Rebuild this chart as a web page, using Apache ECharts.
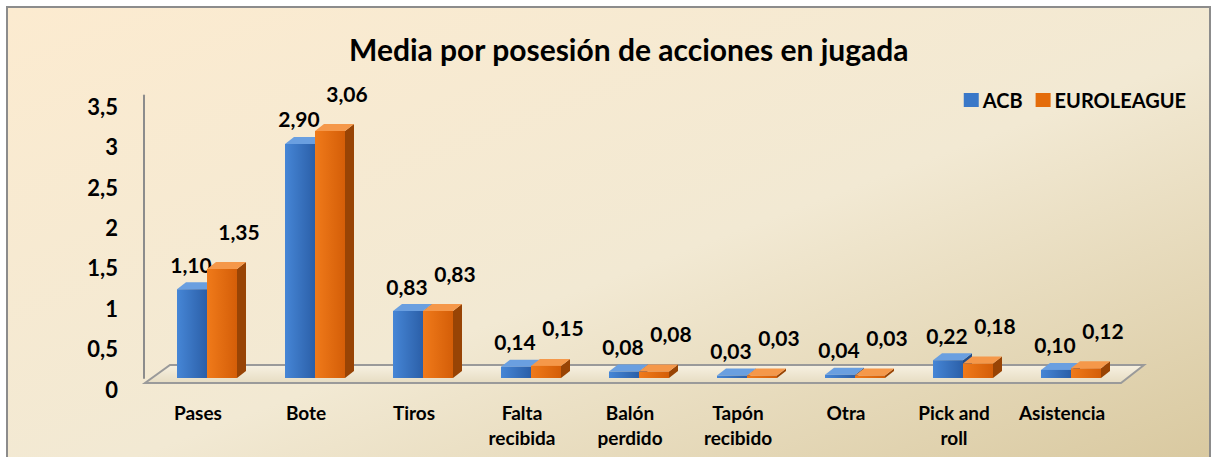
<!DOCTYPE html>
<html>
<head>
<meta charset="utf-8">
<script src="https://cdn.jsdelivr.net/npm/echarts@6/dist/echarts.min.js"></script>
<style>
html, body { margin: 0; padding: 0; background: #fff; }
#chart { width: 1216px; height: 457px; }
</style>
</head>
<body>
<div id="chart"></div>
<script>
const categories = ['Pases', 'Bote', 'Tiros', 'Falta\nrecibida', 'Balón\nperdido', 'Tapón\nrecibido', 'Otra', 'Pick and\nroll', 'Asistencia'];
const acbValues = [1.10, 2.90, 0.83, 0.14, 0.08, 0.03, 0.04, 0.22, 0.10];
const euroValues = [1.35, 3.06, 0.83, 0.15, 0.08, 0.03, 0.03, 0.18, 0.12];
const seriesNames = ['ACB', 'EUROLEAGUE'];

const FONT = 'Lato';
const fmt = v => v.toFixed(2).replace('.', ',');

// fake 3D box: front face + right side + top face
const DEPTH_X = 9, DEPTH_Y = 7, BAR_W = 30;

const palettes = {
    ACB: { front: ['#4686d6', '#2b5fa8'], side: '#224d8a', top: '#6a9fe0', legend: '#3a78c8' },
    EUROLEAGUE: { front: ['#f07a1a', '#d45e08'], side: '#984405', top: '#f5984a', legend: '#e46c0a' }
};

function makeRender(name, shift, labelDx, labelDy) {
    const pal = palettes[name];
    return function (params, api) {
        const base = api.coord([api.value(0), 0]);
        const topPt = api.coord([api.value(0), api.value(1)]);
        const x0 = base[0] + shift;
        const x1 = x0 + BAR_W;
        const y0 = base[1];
        const y1 = topPt[1];
        return {
            type: 'group',
            children: [
                {
                    type: 'polygon',
                    shape: { points: [[x1, y0], [x1 + DEPTH_X, y0 - DEPTH_Y], [x1 + DEPTH_X, y1 - DEPTH_Y], [x1, y1]] },
                    style: { fill: pal.side }
                },
                {
                    type: 'polygon',
                    shape: { points: [[x0, y1], [x1, y1], [x1 + DEPTH_X, y1 - DEPTH_Y], [x0 + DEPTH_X, y1 - DEPTH_Y]] },
                    style: { fill: pal.top }
                },
                {
                    type: 'rect',
                    shape: { x: x0, y: y1, width: BAR_W, height: y0 - y1 },
                    style: {
                        fill: new echarts.graphic.LinearGradient(0, 0, 1, 0, [
                            { offset: 0, color: pal.front[0] },
                            { offset: 1, color: pal.front[1] }
                        ])
                    }
                },
                {
                    type: 'text',
                    style: {
                        text: fmt(api.value(1)),
                        x: x0 + labelDx,
                        y: y1 + labelDy,
                        align: 'center',
                        verticalAlign: 'middle',
                        fontFamily: FONT,
                        fontWeight: 'bold',
                        fontSize: 21,
                        fill: '#000'
                    }
                }
            ]
        };
    };
}

const chart = echarts.init(document.getElementById('chart'), null, { renderer: 'svg' });

const option = {
    backgroundColor: '#fff',
    animation: false,
    title: {
        text: 'Media por posesión de acciones en jugada',
        left: 349,
        top: 34,
        padding: 0,
        textStyle: { fontFamily: FONT, fontWeight: 'bold', fontSize: 30, color: '#000' }
    },
    legend: {
        data: seriesNames,
        right: 30,
        top: 90,
        padding: 0,
        icon: 'rect',
        itemWidth: 15,
        itemHeight: 14,
        itemGap: 13,
        textStyle: { fontFamily: FONT, fontWeight: 'bold', fontSize: 20, color: '#000', padding: [0, 0, 0, -1] }
    },
    grid: { left: 144, right: 100, top: 95.5, bottom: 79, containLabel: false },
    xAxis: {
        type: 'category',
        data: categories,
        axisLine: { show: false },
        axisTick: { show: false },
        axisLabel: {
            margin: 22,
            lineHeight: 25,
            fontFamily: FONT,
            fontWeight: 'bold',
            fontSize: 19,
            color: '#000',
            interval: 0
        }
    },
    yAxis: {
        type: 'value',
        min: 0,
        max: 3.5,
        interval: 0.5,
        splitLine: { show: false },
        axisTick: { show: false },
        axisLine: { show: true, lineStyle: { color: '#8c8c8c', width: 2 } },
        axisLabel: {
            margin: 26,
            verticalAlign: 'top',
            fontFamily: FONT,
            fontWeight: 'bold',
            fontSize: 22,
            color: '#000',
            formatter: v => String(v).replace('.', ',')
        }
    },
    series: [
        {
            name: 'ACB',
            type: 'custom',
            z: 3,
            itemStyle: { color: palettes.ACB.legend },
            renderItem: makeRender('ACB', -21, 14, -25),
            encode: { x: 0, y: 1 },
            data: acbValues.map((v, i) => [i, v])
        },
        {
            name: 'EUROLEAGUE',
            type: 'custom',
            z: 4,
            itemStyle: { color: palettes.EUROLEAGUE.legend },
            renderItem: makeRender('EUROLEAGUE', 9, 32, -38),
            encode: { x: 0, y: 1 },
            data: euroValues.map((v, i) => [i, v])
        }
    ]
};

chart.setOption(option);

// background panel + floor of the 3D plot
const zeroY = chart.convertToPixel({ yAxisIndex: 0 }, 0);
const gLeft = 144, gRight = 1216 - 100;
chart.setOption({
    graphic: [
        {
            type: 'rect',
            z: -10,
            silent: true,
            shape: { x: 7, y: 7, width: 1203, height: 452 },
            style: {
                fill: new echarts.graphic.LinearGradient(0, 0, 1, 1, [
                    { offset: 0, color: '#fcebd0' },
                    { offset: 0.55, color: '#f2e9d3' },
                    { offset: 1, color: '#d9c9a0' }
                ]),
                stroke: '#8c8c8c',
                lineWidth: 2
            }
        },
        {
            type: 'polygon',
            z: 1,
            silent: true,
            shape: {
                points: [
                    [gLeft + 1, zeroY + 5], [gRight + 5, zeroY + 5],
                    [gRight + 28, zeroY - 13], [gLeft + 26, zeroY - 13]
                ]
            },
            style: {
                fill: new echarts.graphic.LinearGradient(0, 0, 0, 1, [
                    { offset: 0, color: '#f7f1e2' },
                    { offset: 1, color: '#e6dcc2' }
                ]),
                stroke: '#9a9a9a',
                lineWidth: 2
            }
        }
    ]
});
</script>
</body>
</html>
